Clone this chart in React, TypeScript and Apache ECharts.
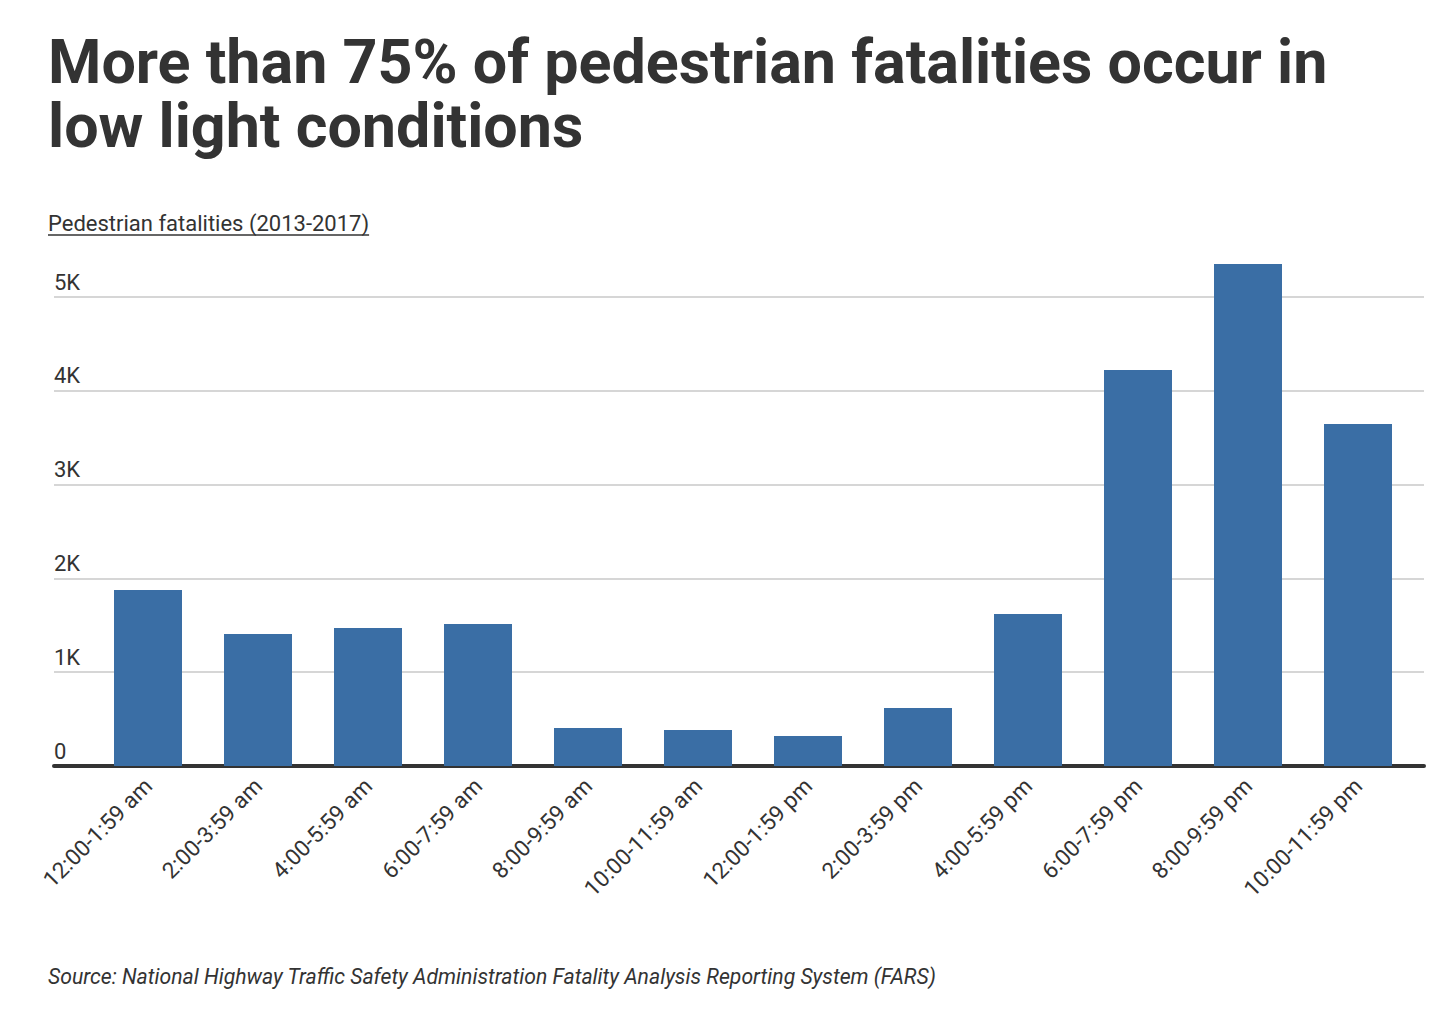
import React, { useEffect, useRef } from "react";
import * as echarts from "echarts";

const categories = [
  "12:00-1:59 am",
  "2:00-3:59 am",
  "4:00-5:59 am",
  "6:00-7:59 am",
  "8:00-9:59 am",
  "10:00-11:59 am",
  "12:00-1:59 pm",
  "2:00-3:59 pm",
  "4:00-5:59 pm",
  "6:00-7:59 pm",
  "8:00-9:59 pm",
  "10:00-11:59 pm",
];

const fatalities = [1876, 1407, 1471, 1514, 405, 384, 320, 618, 1620, 4222, 5352, 3646];

const yTickLabels: Record<number, string> = {
  0: "0",
  1000: "1K",
  2000: "2K",
  3000: "3K",
  4000: "4K",
  5000: "5K",
};

const titleText = "More than 75% of pedestrian fatalities occur in\nlow light conditions";
const subtitleText = "Pedestrian fatalities (2013-2017)";
const sourceText =
  "Source: National Highway Traffic Safety Administration Fatality Analysis Reporting System (FARS)";

const FONT = "Roboto, 'Noto Sans', sans-serif";
const TEXT = "#333333";
const BAR = "#3a6ea5";

function measure(text: string, font: string): number {
  const c = document.createElement("canvas").getContext("2d");
  if (!c) return 0;
  c.font = font;
  return c.measureText(text).width;
}

export default function App() {
  const ref = useRef<HTMLDivElement>(null);

  useEffect(() => {
    document.body.style.margin = "0";
    if (!ref.current) return;
    const chart = echarts.init(ref.current, undefined, { renderer: "svg" });

    const gridTop = 297;
    const gridBottom = 1016 - 766;
    const subFont = `22px Roboto`;
    const subWidth = measure(subtitleText, subFont) || 325;

    chart.setOption({
      animation: false,
      backgroundColor: "#ffffff",
      textStyle: { fontFamily: FONT },
      title: {
        text: titleText,
        left: 48,
        top: 30,
        padding: 0,
        textStyle: {
          fontFamily: FONT,
          fontSize: 61,
          fontWeight: "bold",
          color: TEXT,
          lineHeight: 64,
        },
      },
      graphic: [
        {
          type: "text",
          left: 48,
          top: 212,
          style: {
            text: subtitleText,
            font: `22px ${FONT}`,
            fill: TEXT,
          },
        },
        {
          type: "line",
          shape: { x1: 48, y1: 235, x2: 48 + subWidth, y2: 235 },
          style: { stroke: TEXT, lineWidth: 1.5 },
        },
        {
          type: "text",
          left: 48,
          top: 966,
          style: {
            text: sourceText,
            font: `italic 21.2px ${FONT}`,
            fill: TEXT,
          },
        },
      ],
      grid: [
        { left: 54, right: 26, top: gridTop, bottom: gridBottom },
        { left: 93, right: 37, top: gridTop, bottom: gridBottom },
      ],
      xAxis: [
        {
          gridIndex: 0,
          type: "value",
          min: 0,
          max: 1,
          offset: 2,
          axisLine: { show: true, lineStyle: { color: TEXT, width: 4 } },
          axisTick: { show: false },
          axisLabel: { show: false },
          splitLine: { show: false },
        },
        {
          gridIndex: 1,
          type: "category",
          data: categories,
          boundaryGap: true,
          axisLine: { show: false },
          axisTick: { show: false },
          axisLabel: {
            rotate: 45,
            margin: 16,
            interval: 0,
            fontSize: 22.5,
            fontFamily: FONT,
            color: TEXT,
          },
        },
      ],
      yAxis: [
        {
          gridIndex: 0,
          type: "value",
          min: 0,
          max: 5000,
          interval: 1000,
          axisLine: { show: false },
          axisTick: { show: false },
          axisLabel: {
            inside: true,
            margin: 0,
            align: "left",
            verticalAlign: "bottom",
            padding: [0, 0, 4, 0],
            fontSize: 22,
            fontFamily: FONT,
            color: TEXT,
            formatter: (v: number) => yTickLabels[v] ?? "",
          },
          splitLine: { show: true, lineStyle: { color: "#d6d6d6", width: 2 } },
        },
        {
          gridIndex: 1,
          type: "value",
          min: 0,
          max: 5000,
          interval: 1000,
          show: false,
          splitLine: { show: false },
        },
      ],
      series: [
        {
          type: "bar",
          xAxisIndex: 1,
          yAxisIndex: 1,
          data: fatalities,
          barWidth: 68,
          clip: false,
          itemStyle: { color: BAR },
          z: 3,
        },
      ],
    });

    return () => chart.dispose();
  }, []);

  return <div ref={ref} style={{ width: 1450, height: 1016 }} />;
}
